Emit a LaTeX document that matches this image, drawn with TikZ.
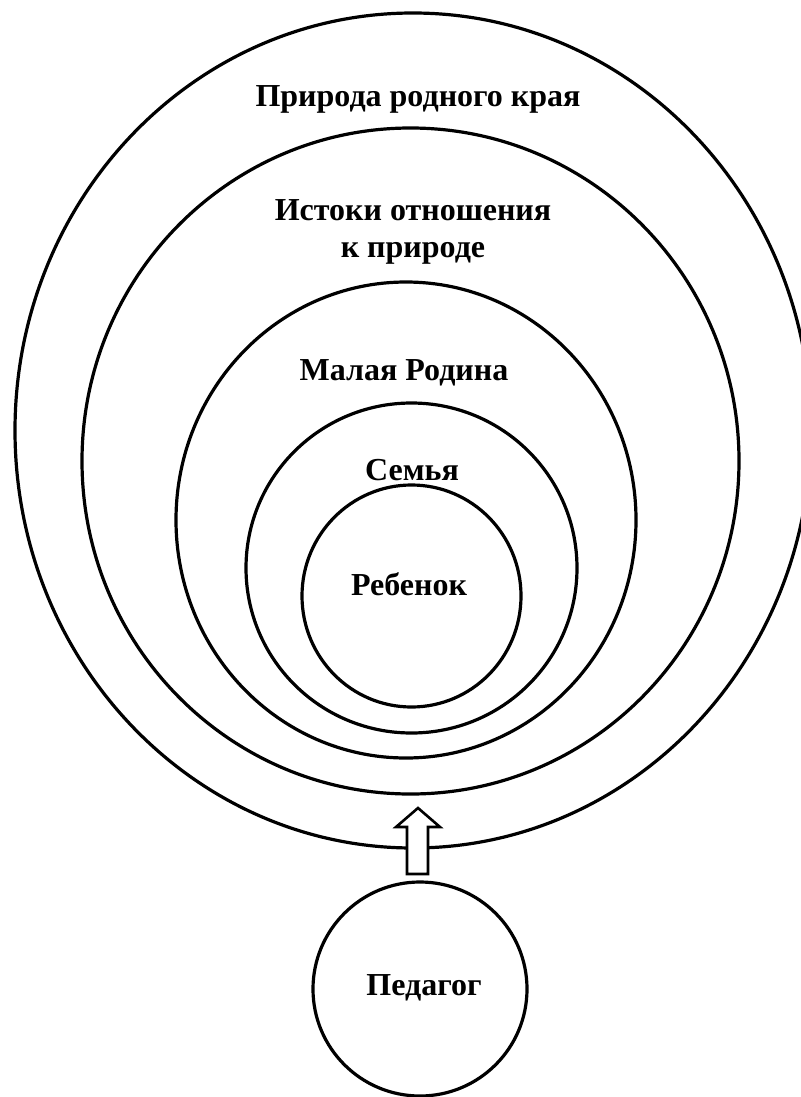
\documentclass[tikz,border=0pt]{standalone}
\usepackage{fontspec}
\setmainfont{Liberation Serif}[BoldFont={Liberation Serif Bold}]
\usetikzlibrary{shapes.geometric}
\begin{document}
\begin{tikzpicture}[x=0.5pt,y=-0.5pt,
  ring/.style={draw, ellipse, line width=1.6pt, inner sep=0pt},
  lbl/.style={font=\fontsize{16}{19}\selectfont\bfseries, anchor=base, inner sep=0pt},
  blockarrow/.style={draw, line width=1.3pt, fill=white, line join=miter}]
\useasboundingbox (0,0) rectangle (800,1097);
% concentric rings
\node[ring, minimum width=398pt,   minimum height=417.5pt] (r1) at (413,430.5) {};
\node[ring, minimum width=328.5pt, minimum height=333pt]   (r2) at (410.5,461) {};
\node[ring, minimum width=230pt,   minimum height=238pt]   (r3) at (406,520) {};
\node[ring, minimum width=165.5pt, minimum height=165pt]   (r4) at (411.5,568) {};
\node[ring, minimum width=109.5pt, minimum height=111pt]   (r5) at (411.5,596) {};
% teacher circle
\node[ring, minimum width=107pt, minimum height=107pt] (ped) at (420,989) {};
% labels
\node[lbl] (t1) at (418,107) {Природа родного края};
\node[lbl] (t2a) at (413,220) {Истоки отношения};
\node[lbl] (t2b) at (413,257) {к природе};
\node[lbl] (t3) at (404,380) {Малая Родина};
\node[lbl] (t4) at (412,480) {Семья};
\node[lbl] (t5) at (409,595) {Ребенок};
\node[lbl] (t6) at (424,995) {Педагог};
% hollow block arrow from teacher to the outer ring
\coordinate (atip) at (418,808);
\draw[blockarrow] (407,874) -- (407,827) -- (396,827) -- (atip) -- (440,827)
  -- (428,827) -- (428,874) -- cycle;
\end{tikzpicture}
\end{document}
